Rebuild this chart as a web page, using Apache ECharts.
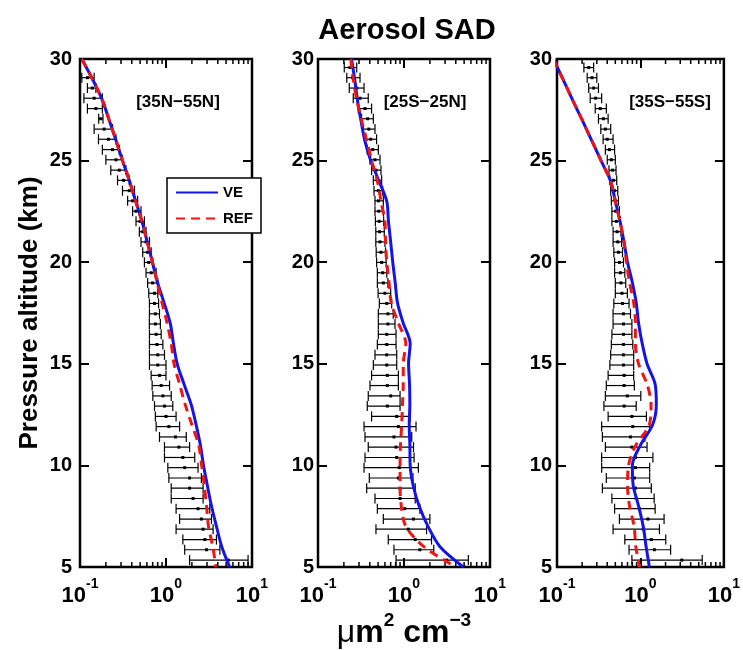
<!DOCTYPE html>
<html><head><meta charset="utf-8">
<script src="https://cdn.jsdelivr.net/npm/echarts@6/dist/echarts.min.js"></script>
<style>html,body{margin:0;padding:0;background:#fff}#c{width:743px;height:650px}</style>
</head><body><div id="c"></div>
<script>
// ---------- data ----------
const TITLE = 'Aerosol SAD';
const REGIONS = ['[35N\u221255N]', '[25S\u221225N]', '[35S\u221255S]'];
const SERIES_NAMES = ['VE', 'REF'];
const X_TICKS = [0.1, 1, 10];
const Y_TICKS = [5, 10, 15, 20, 25, 30];
const MINOR_TICKS = [0.2, 0.3, 0.4, 0.5, 0.6, 0.7, 0.8, 0.9, 2, 3, 4, 5, 6, 7, 8, 9];

// altitudes of the observation error bars (km), bottom to top
const ALT = [5.34,5.85,6.35,6.86,7.36,7.87,8.37,8.88,9.38,9.89,10.39,10.9,11.4,11.91,12.41,12.92,13.42,13.93,14.43,14.94,15.44,15.95,16.45,16.96,17.46,17.97,18.47,18.98,19.48,19.99,20.49,21.0,21.5,22.01,22.51,23.02,23.52,24.03,24.53,25.04,25.54,26.05,26.55,27.06,27.56,28.07,28.57,29.08,29.58];

// Panel 1 [35N-55N] observations
const P1_MEAN = [5.3,2.96,2.83,2.7,2.58,2.36,2.06,1.88,1.88,1.65,1.57,1.41,1.29,1.08,1.0,0.96,0.92,0.879,0.84,0.802,0.802,0.785,0.768,0.752,0.752,0.735,0.735,0.70,0.672,0.63,0.612,0.586,0.536,0.499,0.448,0.409,0.374,0.321,0.286,0.262,0.239,0.214,0.191,0.174,0.153,0.146,0.139,0.122,null];
const P1_LOW  = [1.88,1.65,1.57,1.31,1.44,1.31,1.15,1.15,1.08,1.05,0.96,0.96,0.84,0.768,0.752,0.735,0.703,0.69,0.672,0.642,0.642,0.642,0.642,0.64,0.642,0.642,0.63,0.612,0.586,0.561,0.536,0.512,0.49,0.448,0.409,0.358,0.312,0.273,0.228,0.2,0.182,0.164,0.146,0.165,0.122,0.111,0.122,0.105,null];
const P1_HIGH = [9.0,4.23,3.86,3.53,3.38,3.23,2.7,2.7,2.58,2.36,2.16,1.88,1.72,1.44,1.31,1.2,1.15,1.1,1.0,1.0,0.96,0.92,0.879,0.86,0.84,0.82,0.802,0.802,0.768,0.703,0.672,0.642,0.586,0.561,0.512,0.468,0.43,0.374,0.342,0.312,0.286,0.262,0.239,0.185,0.182,0.182,0.153,0.146,null];

// Panel 2 [25S-25N] observations
const P2_MEAN = [3.14,1.53,1.35,1.12,1.29,1.02,0.9,0.9,0.86,0.88,0.823,0.808,0.764,0.86,0.823,0.64,0.70,0.64,0.64,0.63,0.63,0.63,0.63,0.65,0.65,0.63,0.6,0.575,0.565,0.55,0.54,0.526,0.52,0.515,0.51,0.503,0.503,0.49,0.472,0.46,0.433,0.41,0.39,0.378,0.352,0.308,0.282,0.253,0.235];
const P2_LOW  = [0.808,0.764,0.656,0.472,0.575,0.49,0.46,0.368,0.395,0.343,0.352,0.384,0.352,0.343,0.42,0.374,0.384,0.402,0.42,0.44,0.46,0.49,0.503,0.503,0.503,0.517,0.5,0.49,0.49,0.48,0.475,0.47,0.47,0.465,0.46,0.46,0.448,0.44,0.42,0.402,0.374,0.352,0.336,0.321,0.294,0.257,0.231,0.216,0.202];
const P2_HIGH = [5.6,2.22,2.09,1.83,2.0,1.53,1.35,1.35,1.27,1.47,1.31,1.29,1.23,1.38,1.18,0.9,0.9,0.86,0.86,0.823,0.823,0.808,0.808,0.786,0.75,0.719,0.70,0.65,0.63,0.62,0.61,0.6,0.59,0.58,0.575,0.575,0.565,0.55,0.54,0.526,0.503,0.48,0.46,0.44,0.42,0.384,0.343,0.308,0.282];

// Panel 3 [35S-55S] observations
const P3_MEAN = [3.13,1.47,1.35,1.08,1.23,0.97,0.89,0.87,0.845,0.87,0.87,0.79,0.76,0.81,0.79,0.638,0.697,0.638,0.638,0.626,0.626,0.626,0.626,0.626,0.626,0.61,0.6,0.584,0.575,0.56,0.545,0.535,0.525,0.515,0.505,0.5,0.49,0.475,0.465,0.448,0.425,0.40,0.38,0.36,0.33,0.29,0.275,0.263,0.24];
const P3_LOW  = [0.79,0.73,0.65,0.47,0.56,0.49,0.455,0.35,0.39,0.343,0.343,0.38,0.35,0.343,0.41,0.365,0.38,0.39,0.41,0.43,0.44,0.448,0.455,0.47,0.47,0.48,0.5,0.5,0.49,0.49,0.48,0.47,0.47,0.455,0.455,0.448,0.44,0.43,0.42,0.40,0.38,0.357,0.335,0.314,0.287,0.25,0.24,0.23,0.21];
const P3_HIGH = [5.5,2.3,2.01,1.69,1.92,1.5,1.46,1.35,1.29,1.29,1.41,1.2,1.13,1.29,1.18,0.89,1.01,0.845,0.83,0.83,0.83,0.81,0.79,0.79,0.76,0.73,0.697,0.667,0.65,0.626,0.61,0.595,0.584,0.575,0.56,0.545,0.535,0.52,0.51,0.50,0.49,0.47,0.44,0.41,0.39,0.343,0.314,0.30,0.275];

// model profiles, altitudes top to bottom (km)
const LINE_ALT = [30,29,28,27,26,25,24,23,22,21,20,19,18,17,16,15,14,13,12,11,10,9,8,7,6,5];
const P1_VE  = [0.105,0.14,0.181,0.218,0.262,0.312,0.376,0.444,0.526,0.606,0.695,0.797,0.95,1.12,1.22,1.35,1.62,1.96,2.24,2.51,2.73,3.03,3.38,3.86,4.45,5.5];
const P1_REF = [0.105,0.14,0.181,0.218,0.262,0.312,0.376,0.444,0.526,0.606,0.695,0.79,0.9,1.03,1.15,1.24,1.44,1.67,2.0,2.4,2.6,2.79,2.96,3.12,3.5,3.8];
const P2_VE  = [0.245,0.267,0.287,0.315,0.35,0.41,0.51,0.63,0.66,0.70,0.74,0.79,0.84,0.98,1.18,1.13,1.16,1.17,1.15,1.17,1.18,1.28,1.5,1.9,2.62,4.9];
const P2_REF = [0.24,0.257,0.282,0.32,0.368,0.42,0.49,0.54,0.6,0.61,0.63,0.67,0.71,0.86,1.05,0.98,0.98,0.96,0.94,0.91,0.9,0.9,0.93,1.05,1.7,4.0];
const P3_VE  = [0.091,0.118,0.153,0.2,0.26,0.337,0.438,0.5,0.57,0.635,0.70,0.80,0.89,0.95,1.05,1.2,1.5,1.55,1.4,1.0,0.8,0.82,0.95,1.08,1.17,1.28];
const P3_REF = [0.091,0.118,0.153,0.2,0.26,0.337,0.438,0.5,0.57,0.635,0.68,0.74,0.83,0.87,0.87,0.95,1.2,1.34,1.28,0.88,0.72,0.70,0.74,0.84,0.88,0.98];

// ---------- chart ----------
const FONT = "'Liberation Sans', Arial, Helvetica, sans-serif";
const BLUE = '#1414e6', RED = '#ee1515';
const panels = [
  {mean:P1_MEAN, low:P1_LOW, high:P1_HIGH, ve:P1_VE, ref:P1_REF, left:80, width:172, margin:8, lx:178},
  {mean:P2_MEAN, low:P2_LOW, high:P2_HIGH, ve:P2_VE, ref:P2_REF, left:318, width:172, margin:4, lx:425},
  {mean:P3_MEAN, low:P3_LOW, high:P3_HIGH, ve:P3_VE, ref:P3_REF, left:557, width:173, margin:5, lx:670}
];
const TOP = 59, HEIGHT = 508;

const grid = [], xAxis = [], yAxis = [], series = [], graphic = [];
const tickStyle = {color:'#000', width:2};
panels.forEach((p, k) => {
  grid.push({left:p.left, top:TOP, width:p.width, height:HEIGHT, show:true, borderColor:'#000', borderWidth:2.5, backgroundColor:'transparent'});
});
panels.forEach((p, k) => {
  xAxis.push({type:'log', logBase:10, gridIndex:k, min:X_TICKS[0], max:X_TICKS[2], axisLine:{show:false},
    axisTick:{inside:true, length:9, lineStyle:tickStyle}, splitLine:{show:false},
    axisLabel:{margin:10, color:'#000',
      formatter: v => '{b|10}{s|' + Math.round(Math.log10(v)) + '}',
      rich:{ b:{fontFamily:FONT, fontSize:22, fontWeight:'bold', color:'#000', lineHeight:30, verticalAlign:'bottom'},
             s:{fontFamily:FONT, fontSize:14, fontWeight:'bold', color:'#000', lineHeight:14, verticalAlign:'top'} }}});
  yAxis.push({type:'value', gridIndex:k, min:Y_TICKS[0], max:Y_TICKS[Y_TICKS.length-1], interval:5, axisLine:{show:false},
    axisTick:{inside:true, length:9, lineStyle:tickStyle}, splitLine:{show:false},
    axisLabel:{margin:p.margin, color:'#000', fontFamily:FONT, fontSize:20, fontWeight:'bold'}});
});
panels.forEach((p, k) => {
  xAxis.push({type:'log', logBase:10, gridIndex:k, position:'top', min:X_TICKS[0], max:X_TICKS[2], axisLine:{show:false},
    axisTick:{inside:true, length:9, lineStyle:tickStyle}, axisLabel:{show:false}, splitLine:{show:false}});
  yAxis.push({type:'value', gridIndex:k, position:'right', min:5, max:30, interval:5, axisLine:{show:false},
    axisTick:{inside:true, length:9, lineStyle:tickStyle}, axisLabel:{show:false}, splitLine:{show:false}});
});

panels.forEach((p, k) => {
  // minor log ticks, top and bottom
  series.push({type:'custom', name:'minor'+k, xAxisIndex:k, yAxisIndex:k, silent:true, clip:false,
    data: MINOR_TICKS.map(v => [v, 5]),
    renderItem: (params, api) => {
      const v = api.value(0);
      const b = api.coord([v, 5]), t = api.coord([v, 30]);
      return {type:'group', children:[
        {type:'line', shape:{x1:b[0], y1:b[1], x2:b[0], y2:b[1]-5}, style:{stroke:'#000', lineWidth:1.5}},
        {type:'line', shape:{x1:t[0], y1:t[1], x2:t[0], y2:t[1]+5}, style:{stroke:'#000', lineWidth:1.5}}
      ]};
    }});
  // error bars
  const eb = [];
  ALT.forEach((a, i) => { if (p.mean[i] != null) eb.push([p.low[i], p.high[i], a, p.mean[i]]); });
  series.push({type:'custom', name:'obs'+k, xAxisIndex:k, yAxisIndex:k, silent:true, clip:true,
    encode:{x:[0,1,3], y:2}, data: eb, z:2,
    renderItem: (params, api) => {
      const a = api.value(2);
      const lo = api.coord([api.value(0), a]), hi = api.coord([api.value(1), a]), c = api.coord([api.value(3), a]);
      const st = {stroke:'#000', lineWidth:1.2};
      return {type:'group', children:[
        {type:'line', shape:{x1:lo[0], y1:lo[1], x2:hi[0], y2:hi[1]}, style:st},
        {type:'line', shape:{x1:lo[0], y1:lo[1]-5, x2:lo[0], y2:lo[1]+5}, style:st},
        {type:'line', shape:{x1:hi[0], y1:hi[1]-5, x2:hi[0], y2:hi[1]+5}, style:st},
        {type:'rect', shape:{x:c[0]-1.5, y:c[1]-1.5, width:3, height:3}, style:{fill:'#000'}}
      ]};
    }});
  series.push({type:'line', name:SERIES_NAMES[0], xAxisIndex:k, yAxisIndex:k, symbol:'circle', showSymbol:false, smooth:0.3,
    data: LINE_ALT.map((a, i) => [p.ve[i], a]), lineStyle:{color:BLUE, width:3}, itemStyle:{color:BLUE}, z:3});
  series.push({type:'line', name:SERIES_NAMES[1], xAxisIndex:k, yAxisIndex:k, symbol:'circle', showSymbol:false, smooth:0.3,
    data: LINE_ALT.map((a, i) => [p.ref[i], a]), lineStyle:{color:RED, width:3, type:[9,6]}, itemStyle:{color:RED}, z:4});
  graphic.push({type:'text', x:p.lx, y:102, style:{text:REGIONS[k], fill:'#000', font:'bold 17px ' + FONT, align:'center', verticalAlign:'middle'}});
});

graphic.push({type:'text', x:407, y:31, style:{text:TITLE, fill:'#000', font:'bold 29px ' + FONT, align:'center', verticalAlign:'middle'}});
graphic.push({type:'text', x:30, y:313, rotation:Math.PI/2, style:{text:'Pressure altitude (km)', fill:'#000', font:'bold 26px ' + FONT, align:'center', verticalAlign:'middle'}});
graphic.push({type:'text', x:404, y:630, style:{
  text:'{mu|\u03bc}{b|m}{sup|2}{b| cm}{sup|\u22123}', align:'center', verticalAlign:'middle',
  rich:{ mu:{fontFamily:FONT, fontSize:32, color:'#000', lineHeight:38, verticalAlign:'bottom'},
         b:{fontFamily:FONT, fontSize:32, fontWeight:'bold', color:'#000', lineHeight:38, verticalAlign:'bottom'},
         sup:{fontFamily:FONT, fontSize:19, fontWeight:'bold', color:'#000', lineHeight:19, verticalAlign:'top'} }}});

const chart = echarts.init(document.getElementById('c'), null, {renderer:'canvas'});
chart.setOption({
  animation:false,
  backgroundColor:'#fff',
  grid, xAxis, yAxis, series, graphic,
  legend:{data:SERIES_NAMES, orient:'vertical', left:167, top:178, itemWidth:42, itemHeight:14, itemGap:11,
    padding:[7,8,7,8], borderColor:'#000', borderWidth:1.5, backgroundColor:'#fff',
    itemStyle:{opacity:0},
    textStyle:{fontFamily:FONT, fontSize:15, fontWeight:'bold', color:'#000'}, z:10}
});
</script></body></html>
